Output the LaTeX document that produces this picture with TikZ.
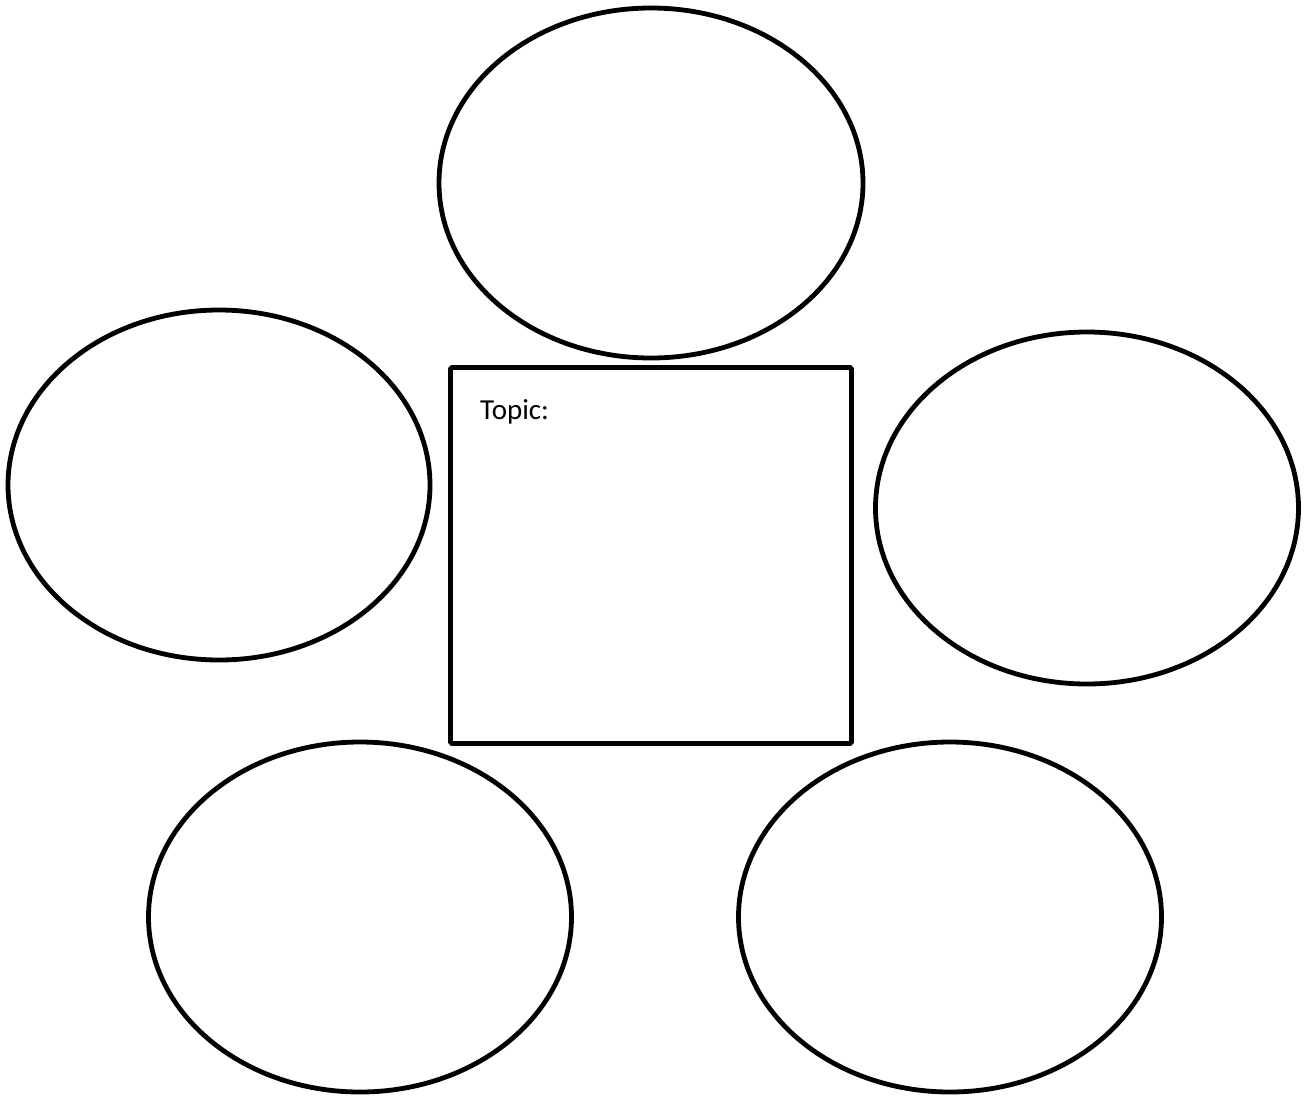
\documentclass[tikz,border=0pt]{standalone}
\usepackage{fontspec}
\setmainfont{Carlito}
\usetikzlibrary{shapes.geometric}
\begin{document}
\begin{tikzpicture}[x=1pt,y=1pt,
  bubble/.style={draw, line width=4.8pt, ellipse, inner sep=0pt},
  topicbox/.style={draw, line width=4.8pt, rectangle, rounded corners=1.5pt, inner sep=0pt,
    minimum width=401pt, minimum height=376pt}]
\useasboundingbox (0,0) rectangle (1308,-1098);
\node[bubble, minimum width=424pt, minimum height=350pt] (top) at (651,-183) {};
\node[bubble, minimum width=422pt, minimum height=350pt] (left) at (219,-485) {};
\node[bubble, minimum width=423pt, minimum height=352pt] (right) at (1087,-508) {};
\node[bubble, minimum width=423pt, minimum height=350pt] (botleft) at (360,-917) {};
\node[bubble, minimum width=423pt, minimum height=350pt] (botright) at (950,-917) {};
\node[topicbox] (topic) at (651,-555.5) {};
\node[anchor=base west, inner sep=0pt, font=\fontsize{29pt}{34pt}\selectfont] (label) at (480,-419) {Topic:};
\end{tikzpicture}
\end{document}
